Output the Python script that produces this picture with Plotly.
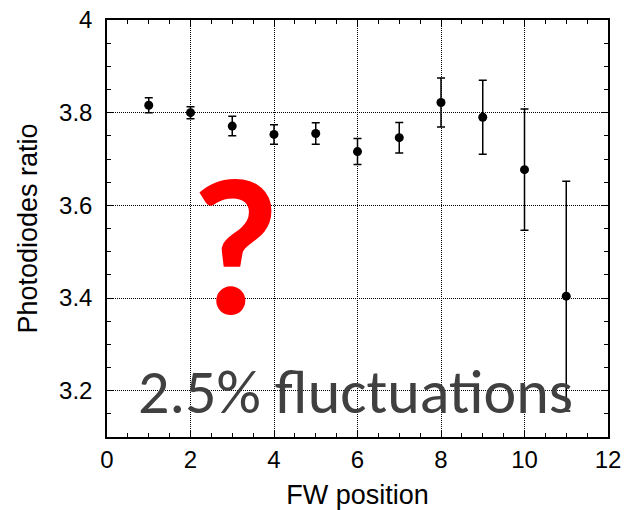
import plotly.graph_objects as go

fw_position = [1, 2, 3, 4, 5, 6, 7, 8, 9, 10, 11]
ratio = [3.816, 3.800, 3.771, 3.753, 3.755, 3.716, 3.746, 3.822, 3.790, 3.677, 3.404]
ratio_err = [0.016, 0.013, 0.021, 0.021, 0.023, 0.028, 0.033, 0.053, 0.080, 0.131, 0.248]

x_ticks = [0, 2, 4, 6, 8, 10, 12]
y_ticks = [3.2, 3.4, 3.6, 3.8, 4.0]
y_tick_text = ["3.2", "3.4", "3.6", "3.8", "4"]

fig = go.Figure()
fig.add_trace(go.Scatter(
    x=fw_position, y=ratio, mode="markers",
    marker=dict(color="black", size=9),
    error_y=dict(type="data", array=ratio_err, color="black", thickness=1.5, width=4),
    showlegend=False,
))

axis_common = dict(
    showline=True, linecolor="black", linewidth=1.5, mirror="allticks",
    ticks="inside", ticklen=7, tickwidth=1.2, tickcolor="black",
    showgrid=True, gridcolor="black", gridwidth=1, griddash="1px,1px",
    zeroline=False, automargin=False,
    tickfont=dict(family="Liberation Sans, Arial", size=24, color="black"),
    title_font=dict(family="Liberation Sans, Arial", size=27, color="black"),
)

fig.update_xaxes(
    range=[0, 12], tickvals=x_ticks, ticktext=[str(v) for v in x_ticks],
    minor=dict(dtick=0.5, ticks="inside", ticklen=4, tickcolor="black", showgrid=False),
    title_text="FW position", title_standoff=18, ticklabelstandoff=0,
    **axis_common,
)
fig.update_yaxes(
    range=[3.1, 4.0], tickvals=y_ticks, ticktext=y_tick_text,
    minor=dict(dtick=0.05, ticks="inside", ticklen=4, tickcolor="black", showgrid=False),
    title_text="Photodiodes ratio", title_standoff=14, ticklabelstandoff=8,
    **axis_common,
)

fig.add_annotation(
    x=3.07, y=3.511, xref="x", yref="y", text="<b>?</b>", showarrow=False,
    font=dict(family="Carlito, Lato, Noto Sans", size=195, color="#ff0000"),
)
fig.add_annotation(
    x=5.94, y=3.198, xref="x", yref="y", text="2.5% fluctuations", showarrow=False,
    font=dict(family="Carlito, Lato, Noto Sans", size=62, color="#404040"),
)

fig.update_layout(
    width=629, height=510,
    margin=dict(l=107, r=21, t=20, b=73),
    plot_bgcolor="white", paper_bgcolor="white",
)

fig.write_html(
    "out.html",
    config={"displayModeBar": False},
    post_script="document.body.style.margin='0';document.body.style.overflow='hidden';",
)
